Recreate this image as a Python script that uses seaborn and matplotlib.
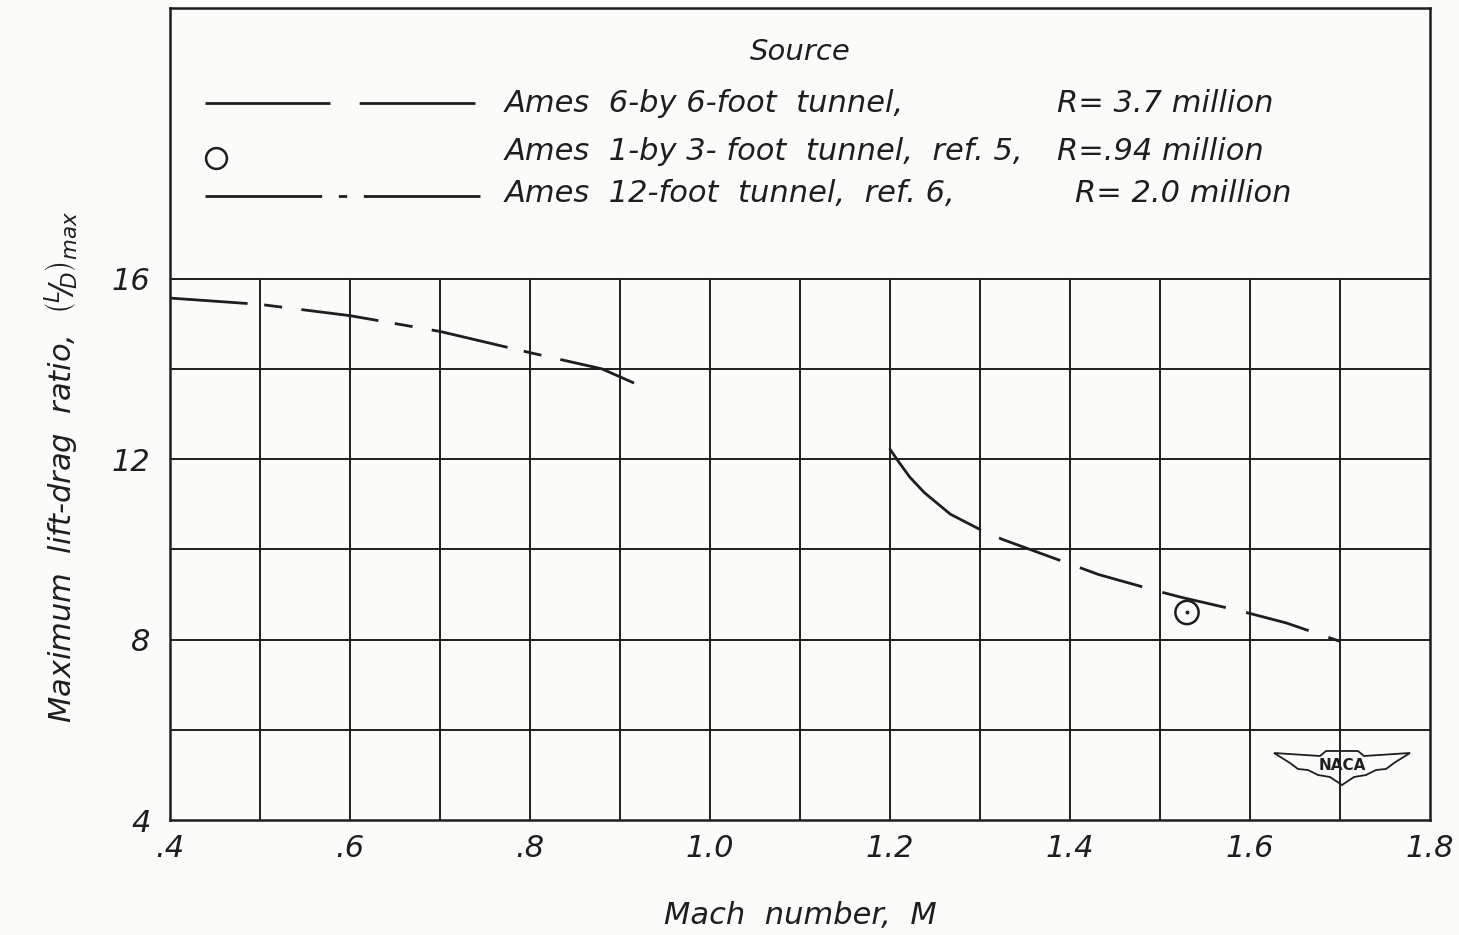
import numpy as np
import matplotlib
matplotlib.use("Agg")
import matplotlib.pyplot as plt
import seaborn as sns
from matplotlib.lines import Line2D
from matplotlib.patches import Polygon

# Ames 12-foot tunnel, ref. 6 (R = 2.0 million)
mach_12ft = [0.40, 0.50, 0.60, 0.70, 0.80, 0.88, 0.922]
ld_12ft = [15.57, 15.43, 15.18, 14.83, 14.36, 14.00, 13.63]

# Ames 6- by 6-foot tunnel (R = 3.7 million)
mach_6x6 = [1.200, 1.210, 1.222, 1.238, 1.267, 1.300, 1.325, 1.406, 1.432,
            1.500, 1.523, 1.590, 1.640, 1.700]
ld_6x6 = [12.22, 11.93, 11.60, 11.26, 10.78, 10.44, 10.22, 9.63, 9.44,
          9.06, 8.94, 8.63, 8.37, 7.96]

# Ames 1- by 3-foot tunnel, ref. 5 (R = 0.94 million)
mach_1x3 = [1.53]
ld_1x3 = [8.60]

x_ticks = [0.4, 0.6, 0.8, 1.0, 1.2, 1.4, 1.6, 1.8]
x_tick_labels = [".4", ".6", ".8", "1.0", "1.2", "1.4", "1.6", "1.8"]
y_ticks = [4, 8, 12, 16]
y_tick_labels = ["4", "8", "12", "16"]

legend_sources = ["Ames  6-by 6-foot  tunnel,",
                  "Ames  1-by 3- foot  tunnel,  ref. 5,",
                  "Ames  12-foot  tunnel,  ref. 6,"]
legend_reynolds = ["R= 3.7 million", "R=.94 million", "R= 2.0 million"]

sns.set_theme(style="white")
plt.rcParams["font.family"] = ["DejaVu Sans"]
plt.rcParams["font.style"] = "italic"
plt.rcParams["mathtext.fontset"] = "dejavusans"
plt.rcParams["mathtext.default"] = "it"
plt.rcParams["lines.scale_dashes"] = False

INK = "#1e1e1e"
PAPER = "#fbfbfa"
FS = 22
W, H = 1459, 935
fig = plt.figure(figsize=(W / 100, H / 100), dpi=100, facecolor=PAPER)
L, R, T, B = 170, 1430, 8, 820
ax = fig.add_axes([L / W, 1 - B / H, (R - L) / W, (B - T) / H])
ax.set_facecolor(PAPER)

ax.set_xlim(0.4, 1.8)
ax.set_ylim(4, 22)

# grid only covers the data region (up to 16)
for xv in np.arange(0.5, 1.8, 0.1):
    ax.plot([xv, xv], [4, 16], color=INK, lw=1.4, zorder=1)
for yv in range(6, 17, 2):
    ax.plot([0.4, 1.8], [yv, yv], color=INK, lw=1.4, zorder=1)

# 12-foot tunnel: long-short dash
sns.lineplot(x=mach_12ft, y=ld_12ft, ax=ax, color=INK, lw=2.0, zorder=3)
ax.lines[-1].set_linestyle((0, (56, 12, 13, 14)))

# 6x6 tunnel: solid start, then long dashes
n_solid = 6
sns.lineplot(x=mach_6x6[:n_solid], y=ld_6x6[:n_solid], ax=ax, color=INK,
             lw=2.0, zorder=3, sort=False)
sns.lineplot(x=mach_6x6[n_solid - 1:], y=ld_6x6[n_solid - 1:], ax=ax,
             color=INK, lw=2.0, zorder=3, sort=False)
ax.lines[-1].set_linestyle((47, (47, 15)))

# 1x3 tunnel point
sns.scatterplot(x=mach_1x3, y=ld_1x3, ax=ax, s=280, marker="o",
                facecolor="none", edgecolor=INK, linewidth=1.8, zorder=4)
sns.scatterplot(x=mach_1x3, y=ld_1x3, ax=ax, s=8, color=INK, zorder=4,
                linewidth=0)

ax.set_xticks(x_ticks)
ax.set_xticklabels(x_tick_labels)
ax.set_yticks(y_ticks)
ax.set_yticklabels(y_tick_labels)
ax.tick_params(axis="both", length=0, labelsize=FS, colors=INK)
ax.tick_params(axis="x", pad=10)
ax.tick_params(axis="y", pad=14)
for lab in ax.get_xticklabels() + ax.get_yticklabels():
    lab.set_fontstyle("italic")

for s in ax.spines.values():
    s.set_color(INK)
    s.set_linewidth(1.8)

ax.set_xlabel("Mach  number,  M", fontsize=FS, color=INK, fontstyle="italic")
ax.xaxis.set_label_coords(0.5, -(915 - B) / (B - T))
ax.xaxis.label.set_va("center")
ax.set_ylabel(r"Maximum  lift-drag  ratio,  $\left({}^{L}\!/\!{}_{D}\right)_{max}$",
              fontsize=FS, color=INK, fontstyle="italic")
ax.yaxis.set_label_coords(-(L - 62) / (R - L), (B - 467) / (B - T))
ax.yaxis.label.set_va("center")


def fx(px):
    return px / W


def fy(py):
    return 1 - py / H


# legend block
fig.text(fx(800), fy(52), "Source", fontsize=FS - 1, ha="center",
         va="center", color=INK, fontstyle="italic")
rows = [103, 152, 193]
fig.add_artist(Line2D([fx(205), fx(475)], [fy(rows[0])] * 2, color=INK,
                      lw=2.0, linestyle=(0, (90, 21))))
fig.add_artist(Line2D([fx(216)], [fy(rows[1] + 6)], color=INK, marker="o",
                      markersize=15, markerfacecolor="none",
                      markeredgewidth=1.8, linestyle="none"))
fig.add_artist(Line2D([fx(205), fx(480)], [fy(rows[2] + 3)] * 2, color=INK,
                      lw=2.0, linestyle=(0, (84, 12, 6, 12))))
r_x = [1057, 1057, 1075]
for i, (src, rey) in enumerate(zip(legend_sources, legend_reynolds)):
    fig.text(fx(505), fy(rows[i]), src, fontsize=FS, ha="left", va="center",
             color=INK, fontstyle="italic")
    fig.text(fx(r_x[i]), fy(rows[i]), rey, fontsize=FS, ha="left",
             va="center", color=INK, fontstyle="italic")

# NACA wings emblem (pixel offsets, y downward)
cx, cy = 1342, 767
outline = [(-68, -14), (-22, -11), (-16, -16), (16, -16), (22, -11),
           (68, -14), (52, -4), (44, 2), (34, 3), (24, 8), (12, 10),
           (0, 18), (-12, 10), (-24, 8), (-34, 3), (-44, 2), (-52, -4)]
outline = [(fx(cx + dx), fy(cy + dy)) for dx, dy in outline]
fig.add_artist(Polygon(outline, closed=True, fill=False, edgecolor=INK,
                       lw=1.3, transform=fig.transFigure))
fig.text(fx(cx), fy(cy - 1), "NACA", fontsize=11, ha="center", va="center",
         color=INK, fontstyle="normal", fontweight="bold")

fig.savefig("out.png", dpi=100, facecolor=fig.get_facecolor())
